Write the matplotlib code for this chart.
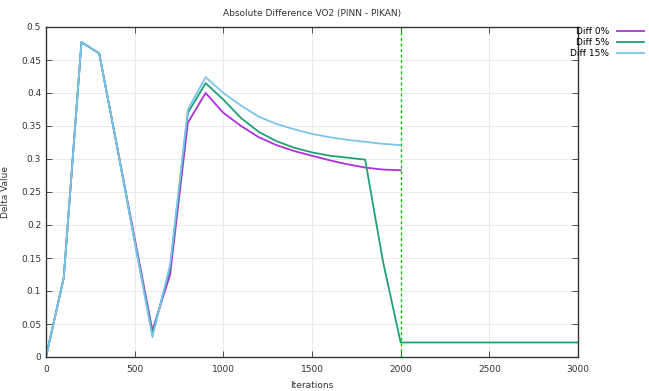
import numpy as np
import matplotlib.pyplot as plt

iters = list(range(0, 2100, 100))
iters_5 = list(range(0, 3100, 100))

diff_0 = [0.0, 0.12, 0.477, 0.46, 0.32, 0.18, 0.04, 0.125, 0.355, 0.40, 0.37,
          0.35, 0.333, 0.321, 0.312, 0.305, 0.298, 0.292, 0.287, 0.284, 0.283]
diff_5 = [0.0, 0.12, 0.477, 0.46, 0.32, 0.175, 0.035, 0.135, 0.37, 0.415, 0.39,
          0.362, 0.341, 0.327, 0.317, 0.310, 0.305, 0.302, 0.299, 0.145, 0.022,
          0.022, 0.022, 0.022, 0.022, 0.022, 0.022, 0.022, 0.022, 0.022, 0.022]
diff_15 = [0.0, 0.12, 0.477, 0.46, 0.32, 0.175, 0.03, 0.14, 0.375, 0.424, 0.40,
           0.381, 0.364, 0.353, 0.345, 0.338, 0.333, 0.329, 0.326, 0.323, 0.321]

labels = ["Diff 0%", "Diff 5%", "Diff 15%"]
colors = ["#b030e0", "#20a078", "#7cc4ec"]
marker_x = 2000

fig = plt.figure(figsize=(6.49, 3.91), dpi=100)
ax = fig.add_axes([46 / 649, 1 - 357 / 391, 532 / 649, 330 / 391])

ax.plot(iters, diff_0, color=colors[0], lw=1.3, label=labels[0])
ax.plot(iters_5, diff_5, color=colors[1], lw=1.3, label=labels[1])
ax.plot(iters, diff_15, color=colors[2], lw=1.3, label=labels[2])
ax.axvline(marker_x, color="#00cc00", lw=1.0, ls=(0, (2, 2)))

ax.set_xlim(0, 3000)
ax.set_ylim(0, 0.5)
ax.set_xticks(np.arange(0, 3001, 500))
ax.set_yticks(np.arange(0, 0.501, 0.05))
ax.set_yticklabels(["0", "0.05", "0.1", "0.15", "0.2", "0.25", "0.3",
                    "0.35", "0.4", "0.45", "0.5"])
ax.tick_params(direction="in", top=True, right=True, labelsize=6.5,
               length=4, width=0.6, colors="#333333")
ax.tick_params(axis="x", pad=6)
ax.grid(True, color="#e8e8e8", lw=0.6)
for s in ax.spines.values():
    s.set_linewidth(1.0)
    s.set_color("#333333")

ax.set_title("Absolute Difference VO2 (PINN - PIKAN)", fontsize=6.5,
             color="#333333", pad=8)
ax.set_xlabel("Iterations", fontsize=6.5, color="#333333", labelpad=5)
ax.set_ylabel("Delta Value", fontsize=6.5, color="#333333", labelpad=8)

fig.legend(loc="upper right", bbox_to_anchor=(1.0, 0.945), frameon=False,
           markerfirst=False, fontsize=6.5, handlelength=3.0,
           labelspacing=0.25, borderaxespad=0.2)

fig.savefig("out.png", dpi=100)
